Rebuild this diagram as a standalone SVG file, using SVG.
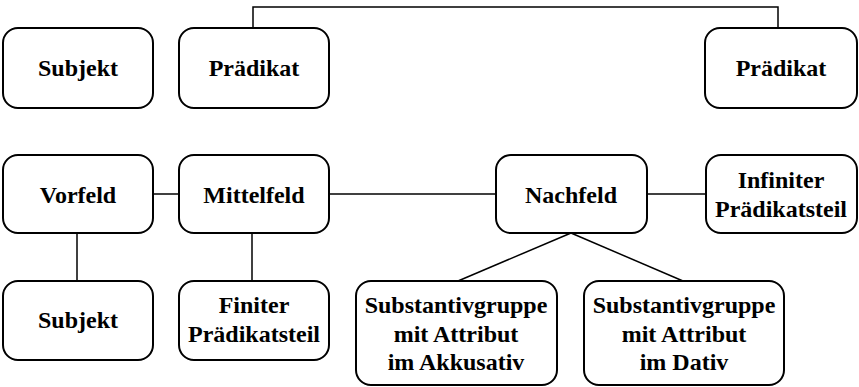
<svg xmlns="http://www.w3.org/2000/svg" width="859" height="387" viewBox="0 0 859 387">
<style>
.box{fill:#fff;stroke:#000;stroke-width:2}
.t{font-family:"Liberation Serif","Times New Roman",serif;font-weight:700;font-size:24px;text-anchor:middle;fill:#000}
.c{fill:none;stroke:#000;stroke-width:1.5}
</style>
<g id="connectors">
<path class="c" d="M253 28V7H778V28"/>
<path class="c" d="M153 194H179"/>
<path class="c" d="M329 194H496"/>
<path class="c" d="M647 194H706"/>
<path class="c" d="M77 233V281"/>
<path class="c" d="M252 233V281"/>
<path class="c" d="M571 233L458 281"/>
<path class="c" d="M571 233L683 281"/>
</g>
<g id="subjekt1"><rect class="box" x="3" y="28" width="150" height="80" rx="15"/><text class="t" x="78" y="76">Subjekt</text></g>
<g id="praedikat1"><rect class="box" x="179" y="28" width="150" height="80" rx="15"/><text class="t" x="254" y="76">Prädikat</text></g>
<g id="praedikat2"><rect class="box" x="705" y="28" width="152" height="80" rx="15"/><text class="t" x="781" y="76">Prädikat</text></g>
<g id="vorfeld"><rect class="box" x="3" y="155" width="150" height="78" rx="15"/><text class="t" x="78" y="203">Vorfeld</text></g>
<g id="mittelfeld"><rect class="box" x="179" y="155" width="150" height="78" rx="15"/><text class="t" x="254" y="203">Mittelfeld</text></g>
<g id="nachfeld"><rect class="box" x="496" y="155" width="151" height="78" rx="15"/><text class="t" x="571" y="203">Nachfeld</text></g>
<g id="infiniter"><rect class="box" x="706" y="155" width="151" height="78" rx="15"/><text class="t" x="781" y="188">Infiniter</text><text class="t" x="781" y="217">Prädikatsteil</text></g>
<g id="subjekt2"><rect class="box" x="3" y="281" width="150" height="79" rx="15"/><text class="t" x="78" y="328">Subjekt</text></g>
<g id="finiter"><rect class="box" x="179" y="281" width="150" height="79" rx="15"/><text class="t" x="254" y="313">Finiter</text><text class="t" x="254" y="342">Prädikatsteil</text></g>
<g id="sg_akk"><rect class="box" x="356" y="281" width="201" height="104" rx="15"/><text class="t" x="456" y="313">Substantivgruppe</text><text class="t" x="456" y="342">mit Attribut</text><text class="t" x="456" y="370">im Akkusativ</text></g>
<g id="sg_dat"><rect class="box" x="584" y="281" width="200" height="104" rx="15"/><text class="t" x="684" y="313">Substantivgruppe</text><text class="t" x="684" y="342">mit Attribut</text><text class="t" x="684" y="370">im Dativ</text></g>
</svg>
